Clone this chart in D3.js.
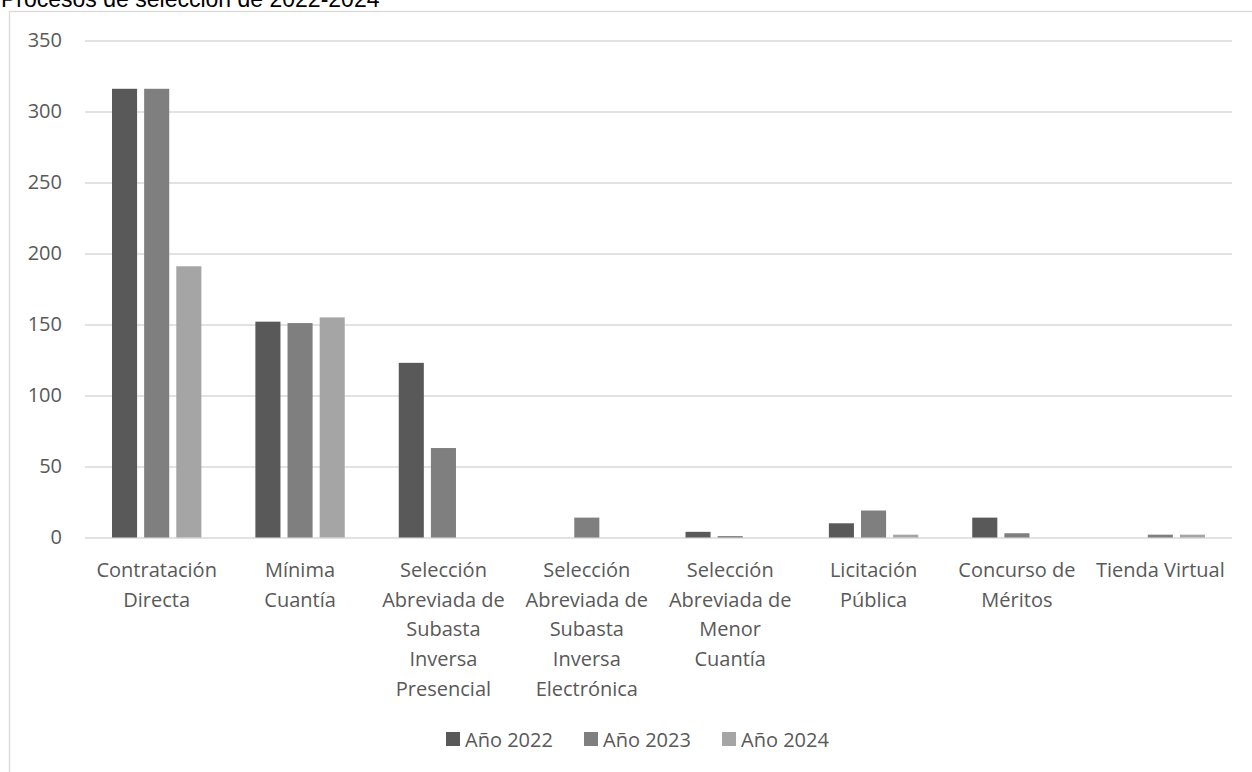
<!DOCTYPE html>
<html>
<head>
<meta charset="utf-8">
<script src="https://cdn.jsdelivr.net/npm/d3@7"></script>
<style>
  body { margin: 0; background: #fff; }
  svg { display: block; }
  .tick text { font-family: 'Open Sans', sans-serif; font-size: 20px; fill: #595959; }
</style>
</head>
<body>
<svg id="chart" width="1252" height="772"></svg>
<script>
const title = 'Procesos de selección de 2022-2024';
const categories = [
  'Contratación Directa',
  'Mínima Cuantía',
  'Selección Abreviada de Subasta Inversa Presencial',
  'Selección Abreviada de Subasta Inversa Electrónica',
  'Selección Abreviada de Menor Cuantía',
  'Licitación Pública',
  'Concurso de Méritos',
  'Tienda Virtual',
];
const seriesNames = ['Año 2022', 'Año 2023', 'Año 2024'];
const values2022 = [316, 152, 123, 0, 4, 10, 14, 0];
const values2023 = [316, 151, 63, 14, 1, 19, 3, 2];
const values2024 = [191, 155, 0, 0, 0, 2, 0, 2];
const yTicks = [0, 50, 100, 150, 200, 250, 300, 350];
const colors = ['#595959', '#7f7f7f', '#a5a5a5'];

const seriesValues = [values2022, values2023, values2024];
const rows = categories.map((c, i) => ({
  category: c,
  values: seriesNames.map((s, j) => ({ series: s, value: seriesValues[j][i] })),
}));

const svg = d3.select('#chart');
const plotLeft = 85;
const plotRight = 1232;
const plotTop = 40.5;
const plotBottom = 537.5;

// chart frame
svg.append('rect')
  .attr('x', 9.5)
  .attr('y', 11.5)
  .attr('width', 1400)
  .attr('height', 1000)
  .attr('fill', 'none')
  .attr('stroke', '#d9d9d9')
  .attr('stroke-width', 1.3);

svg.append('text')
  .text(title)
  .attr('x', 1)
  .attr('y', 6.5)
  .attr('font-family', 'Liberation Sans, Arial, sans-serif')
  .attr('font-size', 23)
  .attr('fill', '#000');

const x0 = d3.scaleBand()
  .domain(categories)
  .range([plotLeft, plotRight]);

const groupPad = 27;
const x1 = d3.scaleBand()
  .domain(seriesNames)
  .range([groupPad, x0.bandwidth() - groupPad])
  .paddingInner(0.22);

const color = d3.scaleOrdinal()
  .domain(seriesNames)
  .range(colors);

const y = d3.scaleLinear()
  .domain([0, 350])
  .range([plotBottom, plotTop]);

// gridlines + y labels
const yAxis = svg.append('g')
  .attr('transform', `translate(${plotLeft}, 0)`)
  .call(d3.axisLeft(y)
    .tickValues(yTicks)
    .tickSize(-(plotRight - plotLeft))
    .tickPadding(23));
yAxis.select('.domain').remove();
yAxis.selectAll('.tick line')
  .attr('stroke', '#d9d9d9')
  .attr('stroke-width', 1.3);

// bars
svg.append('g')
  .selectAll('g')
  .data(rows)
  .enter()
  .append('g')
  .attr('transform', (d) => `translate(${x0(d.category)}, 0)`)
  .selectAll('rect')
  .data((d) => d.values)
  .enter()
  .append('rect')
  .attr('x', (d) => x1(d.series))
  .attr('y', (d) => y(d.value))
  .attr('width', x1.bandwidth())
  .attr('height', (d) => y(0) - y(d.value))
  .attr('fill', (d) => color(d.series));

// category labels, wrapped like Excel
const labels = svg.append('g')
  .attr('font-family', 'Open Sans, sans-serif')
  .attr('font-size', 20)
  .attr('fill', '#595959')
  .attr('text-anchor', 'middle');

const maxWidth = x0.bandwidth() - 8;
categories.forEach((c) => {
  const cx = x0(c) + x0.bandwidth() / 2;
  const text = labels.append('text')
    .attr('x', cx)
    .attr('y', 569)
    .attr('dominant-baseline', 'central');
  let line = [];
  let tspan = text.append('tspan').attr('x', cx).attr('dy', 0);
  c.split(' ').forEach((w) => {
    line.push(w);
    tspan.text(line.join(' '));
    if (tspan.node().getComputedTextLength() > maxWidth && line.length > 1) {
      line.pop();
      tspan.text(line.join(' '));
      line = [w];
      tspan = text.append('tspan')
        .attr('x', cx)
        .attr('dy', 29.7)
        .text(w);
    }
  });
});

// legend
const legend = svg.append('g')
  .attr('font-family', 'Open Sans, sans-serif')
  .attr('font-size', 20)
  .attr('fill', '#595959');

const legendItems = legend.selectAll('g')
  .data(seriesNames)
  .enter()
  .append('g')
  .attr('transform', (d, i) => `translate(${446 + i * 138}, 739)`);

legendItems.append('rect')
  .attr('x', 0)
  .attr('y', -7)
  .attr('width', 14)
  .attr('height', 14)
  .attr('fill', (d) => color(d));

legendItems.append('text')
  .text((d) => d)
  .attr('x', 19)
  .attr('y', 0)
  .attr('dominant-baseline', 'central');
</script>
</body>
</html>
